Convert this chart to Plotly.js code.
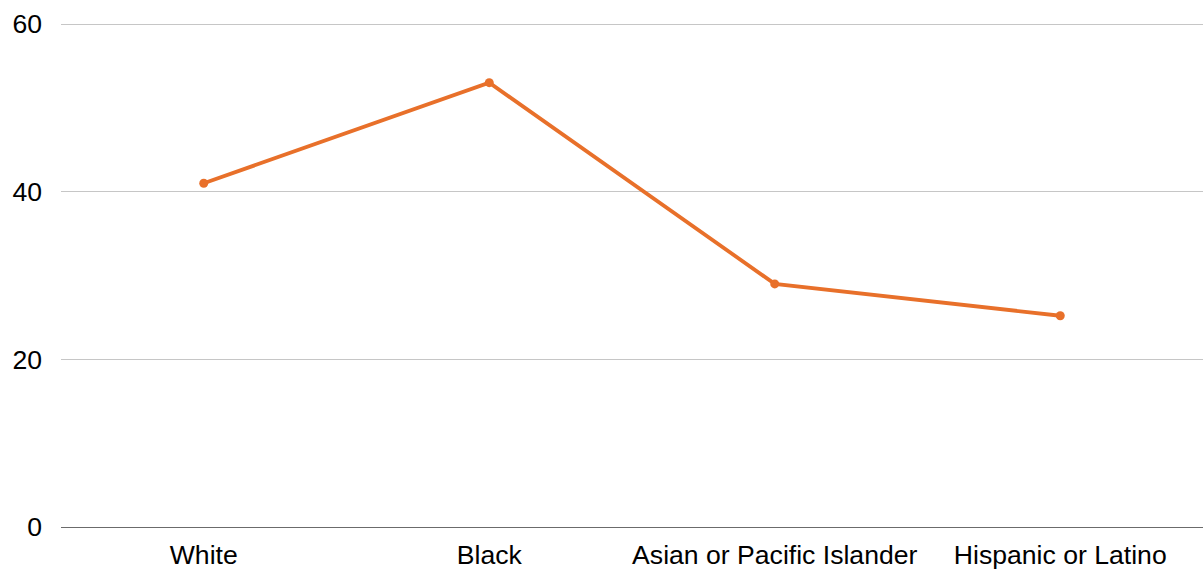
<!DOCTYPE html>
<html>
<head>
<meta charset="utf-8">
<script src="https://cdn.plot.ly/plotly-3.0.1.min.js"></script>
<style>html,body{margin:0;padding:0;background:#fff;}#chart{width:1203px;height:569px;}</style>
</head>
<body>
<div id="chart"></div>
<script>
const categories = ["White", "Black", "Asian or Pacific Islander", "Hispanic or Latino"];
const values = [41.0, 53.0, 29.0, 25.2];
const yTicks = [0, 20, 40, 60];

const trace = {
  x: categories,
  y: values,
  type: 'scatter',
  mode: 'lines+markers',
  line: {color: '#e8702a', width: 3.8},
  marker: {color: '#e8702a', size: 9},
  hoverinfo: 'skip'
};

const layout = {
  width: 1203,
  height: 569,
  margin: {l: 61, r: 0, t: 22, b: 42},
  paper_bgcolor: '#ffffff',
  plot_bgcolor: '#ffffff',
  showlegend: false,
  font: {family: '"Liberation Sans", Arial, sans-serif', size: 26.6, color: '#000000'},
  xaxis: {
    type: 'category',
    range: [-0.5, 3.5],
    showgrid: false,
    zeroline: false,
    showline: false,
    ticks: '',
    ticklabelstandoff: 9,
    tickfont: {size: 26.6, color: '#000000'}
  },
  yaxis: {
    range: [0, 60.24],
    tickvals: yTicks,
    ticktext: yTicks.map(String),
    showgrid: true,
    gridcolor: '#c6c6c6',
    gridwidth: 1,
    zeroline: true,
    zerolinecolor: '#6b6b6b',
    zerolinewidth: 1,
    showline: false,
    ticks: '',
    ticklabelstandoff: 18,
    tickfont: {size: 26.6, color: '#000000'}
  }
};

Plotly.newPlot('chart', [trace], layout, {displayModeBar: false, staticPlot: true});
</script>
</body>
</html>
